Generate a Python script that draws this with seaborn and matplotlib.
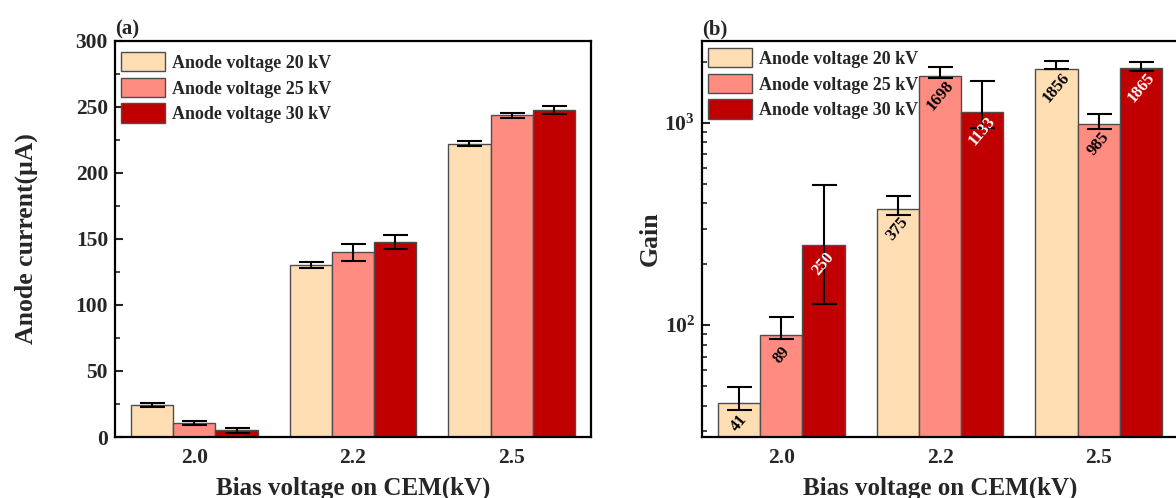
import matplotlib
matplotlib.use("Agg")
import matplotlib.pyplot as plt
import matplotlib.ticker as mticker
from matplotlib.container import BarContainer
import numpy as np
import pandas as pd
import seaborn as sns

bias = ["2.0", "2.2", "2.5"]
series = ["Anode voltage 20 kV", "Anode voltage 25 kV", "Anode voltage 30 kV"]
colors = ["#FFDEB3", "#FF8C80", "#C00000"]
label_colors = ["black", "black", "white"]

# (a) anode current, uA
current_20 = [24.2, 130.3, 222.3]
current_25 = [10.4, 140.0, 243.8]
current_30 = [5.0, 147.7, 248.0]
current_err_20 = [1.6, 2.0, 2.2]
current_err_25 = [1.5, 6.3, 2.0]
current_err_30 = [2.1, 5.3, 3.0]

# (b) gain, with error bar ends
gain_20 = [41, 375, 1856]
gain_25 = [89, 1698, 985]
gain_30 = [250, 1133, 1865]
gain_lo_20 = [38, 352, 1844]
gain_hi_20 = [49.5, 437, 2020]
gain_lo_25 = [85, 1666, 934]
gain_hi_25 = [110, 1888, 1107]
gain_lo_30 = [127, 945, 1803]
gain_hi_30 = [495, 1610, 1996]

sns.set_style("ticks")
plt.rcParams["font.family"] = ["Liberation Serif", "DejaVu Serif"]
plt.rcParams["font.weight"] = "bold"
plt.rcParams["axes.labelweight"] = "bold"
plt.rcParams["mathtext.fontset"] = "custom"
plt.rcParams["mathtext.rm"] = "Liberation Serif:bold"
plt.rcParams["mathtext.it"] = "Liberation Serif:bold"
plt.rcParams["mathtext.bf"] = "Liberation Serif:bold"


def make_df(a, b, c):
    return pd.DataFrame({
        "bias": bias * 3,
        "series": [series[0]] * 3 + [series[1]] * 3 + [series[2]] * 3,
        "value": list(a) + list(b) + list(c),
    })


def bar_panel(ax, df):
    sns.barplot(data=df, x="bias", y="value", hue="series", hue_order=series,
                palette=colors, order=bias, errorbar=None, width=0.8,
                edgecolor="#4d4d4d", linewidth=1, saturation=1, ax=ax)
    return [c for c in ax.containers if isinstance(c, BarContainer)]


def style_axes(ax, tag, ylabel, label_x):
    for s in ax.spines.values():
        s.set_linewidth(1.6)
        s.set_color("black")
    ax.tick_params(axis="y", which="major", direction="in", length=6, width=1.5,
                   labelsize=15.5, pad=5)
    ax.tick_params(axis="y", which="minor", direction="in", length=3.5, width=1.2)
    ax.tick_params(axis="x", length=0, labelsize=15.5, pad=8)
    ax.set_xlabel("Bias voltage on CEM(kV)", fontsize=18)
    ax.set_ylabel(ylabel, fontsize=18.5)
    ax.xaxis.set_label_coords(0.5, -0.1)
    ax.yaxis.set_label_coords(label_x, 0.5)
    ax.set_xlim(-0.5, 2.5)
    ax.set_title(tag, loc="left", fontsize=15, fontweight="bold", pad=5)


def legend(ax, dx, dy):
    h, l = ax.get_legend_handles_labels()
    ax.legend(h, l, loc="upper left", bbox_to_anchor=(dx, dy), frameon=False,
              borderpad=0, borderaxespad=0, handlelength=2.45, handleheight=1.28,
              labelspacing=0.33, handletextpad=0.35,
              prop={"family": "Liberation Serif", "weight": "bold", "size": 13})


fig = plt.figure(figsize=(11.76, 4.98), dpi=100)
ax1 = fig.add_axes([115 / 1176, 61 / 498, 476 / 1176, 396 / 498])
ax2 = fig.add_axes([702 / 1176, 61 / 498, 476 / 1176, 396 / 498])

# panel (a)
bars1 = bar_panel(ax1, make_df(current_20, current_25, current_30))
errs = [current_err_20, current_err_25, current_err_30]
for cont, err in zip(bars1, errs):
    xs = [p.get_x() + p.get_width() / 2 for p in cont.patches]
    ys = [p.get_height() for p in cont.patches]
    ax1.errorbar(xs, ys, yerr=err, fmt="none", ecolor="black", elinewidth=1.5,
                 capsize=9, capthick=1.5, zorder=5)
ax1.set_ylim(0, 300)
ax1.yaxis.set_major_locator(mticker.MultipleLocator(50))
ax1.yaxis.set_minor_locator(mticker.MultipleLocator(25))
style_axes(ax1, "(a)", "Anode current(μA)", -0.162)
legend(ax1, 6 / 476, 1 - 11 / 396)

# panel (b)
bars2 = bar_panel(ax2, make_df(gain_20, gain_25, gain_30))
ax2.set_yscale("log")
ax2.set_ylim(28, 2540)
lows = [gain_lo_20, gain_lo_25, gain_lo_30]
highs = [gain_hi_20, gain_hi_25, gain_hi_30]
for i, cont in enumerate(bars2):
    xs = [p.get_x() + p.get_width() / 2 for p in cont.patches]
    ys = np.array([p.get_height() for p in cont.patches])
    yerr = [ys - np.array(lows[i]), np.array(highs[i]) - ys]
    ax2.errorbar(xs, ys, yerr=yerr, fmt="none", ecolor="black", elinewidth=1.5,
                 capsize=9, capthick=1.5, zorder=5)
    for x, y in zip(xs, ys):
        ax2.annotate(f"{int(y)}", (x, y), xytext=(0, -14), textcoords="offset points",
                     ha="center", va="center", rotation=50, fontsize=12,
                     fontweight="bold", color=label_colors[i], zorder=6)
ax2.yaxis.set_major_locator(mticker.LogLocator(base=10))
ax2.yaxis.set_major_formatter(mticker.LogFormatterMathtext())
ax2.yaxis.set_minor_locator(mticker.LogLocator(base=10, subs=np.arange(2, 10)))
ax2.yaxis.set_minor_formatter(mticker.NullFormatter())
style_axes(ax2, "(b)", "Gain", -0.084)
legend(ax2, 6 / 476, 1 - 7 / 396)

fig.savefig("out.png", dpi=100)
